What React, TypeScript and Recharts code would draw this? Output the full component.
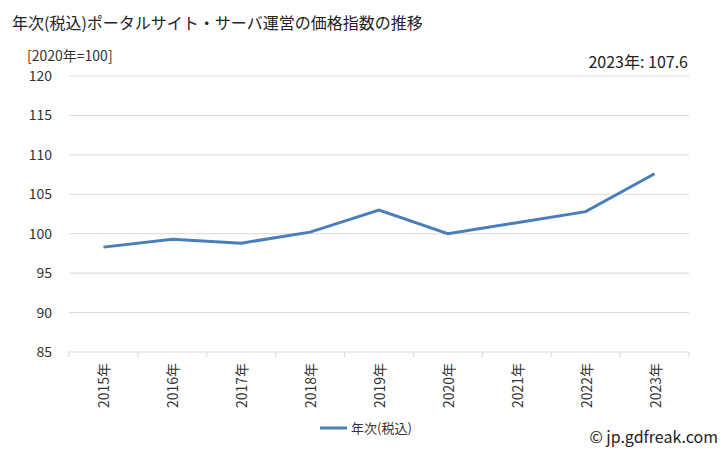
import { LineChart, Line, XAxis, YAxis, CartesianGrid } from "recharts";

const YEARS = [
    "2015年",
    "2016年",
    "2017年",
    "2018年",
    "2019年",
    "2020年",
    "2021年",
    "2022年",
    "2023年",
];

const PRICE_INDEX = [98.3, 99.3, 98.8, 100.2, 103.0, 100.0, 101.4, 102.8, 107.6];

const Y_TICKS = [85, 90, 95, 100, 105, 110, 115, 120];

const SERIES_NAME = "年次(税込)";
const LINE_COLOR = "#4a7ebb";
const FONT = "'Noto Sans CJK JP', 'Noto Sans', sans-serif";

// each year sits in the middle of its own slot on a 0..n axis
const data = YEARS.map((year, i) => ({ year, slot: i + 0.5, value: PRICE_INDEX[i] }));

// slot boundaries (integers) get a tick mark, slot centres (x.5) get the label
const X_TICKS: number[] = [];
for (let i = 0; i <= YEARS.length; i++) {
    X_TICKS.push(i);
    if (i < YEARS.length) X_TICKS.push(i + 0.5);
}

function YearTick(props: any) {
    const { x, y, payload } = props;
    const v = payload.value;
    if (Number.isInteger(v)) {
        return <line x1={x} y1={y} x2={x} y2={y + 5} stroke="#d9d9d9" />;
    }
    return (
        <text
            transform={`translate(${x},${y + 11}) rotate(-90)`}
            textAnchor="end"
            dominantBaseline="central"
            fontSize={14}
            fill="#333"
            fontFamily={FONT}
        >
            {YEARS[Math.floor(v)]}
        </text>
    );
}

export default function App() {
    return (
        <div
            style={{
                position: "absolute",
                left: 0,
                top: 0,
                width: 728,
                height: 450,
                background: "#fff",
                fontFamily: FONT,
            }}
        >
            <div style={{ position: "absolute", left: 12, top: 10, fontSize: 16, color: "#222", whiteSpace: "nowrap" }}>
                年次(税込)ポータルサイト・サーバ運営の価格指数の推移
            </div>
            <div style={{ position: "absolute", left: 27, top: 48, fontSize: 14, lineHeight: "14px", color: "#333" }}>
                [2020年=100]
            </div>
            <div style={{ position: "absolute", right: 40, top: 49, fontSize: 16, color: "#222" }}>
                2023年: 107.6
            </div>
            <div style={{ position: "absolute", right: 10, top: 424, fontSize: 16, color: "#222" }}>
                © jp.gdfreak.com
            </div>
            <div
                style={{
                    position: "absolute",
                    left: 320,
                    top: 418,
                    display: "flex",
                    alignItems: "center",
                    fontSize: 13,
                    color: "#333",
                }}
            >
                <svg width={28} height={6} style={{ marginRight: 3 }}>
                    <line x1={0} y1={3} x2={27} y2={3} stroke={LINE_COLOR} strokeWidth={3} />
                </svg>
                <span>{SERIES_NAME}</span>
            </div>

            <LineChart
                width={728}
                height={450}
                data={data}
                margin={{ top: 76, right: 39, bottom: 48, left: 0 }}
                style={{ position: "absolute", left: 0, top: 0 }}
            >
                <CartesianGrid vertical={false} stroke="#d9d9d9" />
                <XAxis
                    dataKey="slot"
                    type="number"
                    domain={[0, YEARS.length]}
                    allowDataOverflow
                    ticks={X_TICKS}
                    interval={0}
                    height={50}
                    axisLine={false}
                    tickLine={false}
                    tickSize={0}
                    tickMargin={0}
                    tick={<YearTick />}
                />
                <YAxis
                    width={69}
                    domain={[85, 120]}
                    ticks={Y_TICKS}
                    axisLine={false}
                    tickLine={false}
                    tickSize={0}
                    tickMargin={17}
                    tick={{ fontSize: 14, fill: "#333", fontFamily: FONT }}
                />
                <Line
                    dataKey="value"
                    name={SERIES_NAME}
                    stroke={LINE_COLOR}
                    strokeWidth={3}
                    dot={false}
                    activeDot={false}
                    isAnimationActive={false}
                />
            </LineChart>
        </div>
    );
}
